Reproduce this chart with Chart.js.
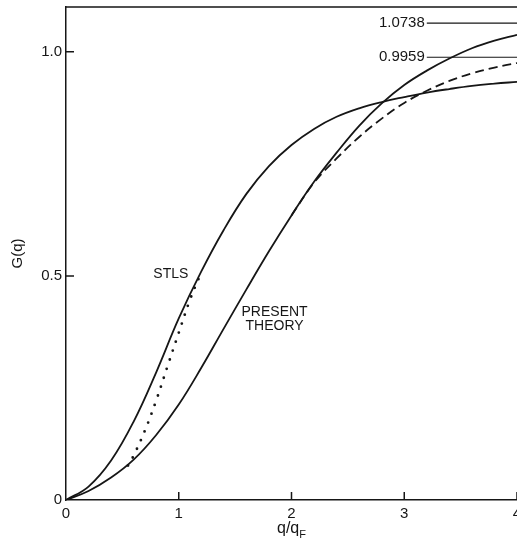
<!DOCTYPE html>
<html>
<head>
<meta charset="utf-8">
<title>G(q)</title>
<script src="https://cdn.jsdelivr.net/npm/chart.js@4.4.1/dist/chart.umd.min.js"></script>
<style>
	html, body { margin: 0; padding: 0; background: #fff; }
	canvas { display: block; }
</style>
</head>
<body>
<canvas id="gq-chart" width="517" height="542"></canvas>
<script>
( function () {
	'use strict';

	// q/qF sample points shared by the two full curves
	const qGrid = [0, 0.2, 0.4, 0.6, 0.8, 1.0, 1.2, 1.4, 1.6, 1.8, 2.0, 2.2, 2.4, 2.6, 2.8, 3.0, 3.2, 3.4, 3.6, 3.8, 4.0];
	const stlsValues = [0, 0.03, 0.088, 0.175, 0.285, 0.405, 0.51, 0.603, 0.683, 0.745, 0.792, 0.828, 0.855, 0.874, 0.888, 0.899, 0.909, 0.917, 0.924, 0.929, 0.933];
	const presentValues = [0, 0.02, 0.05, 0.09, 0.145, 0.213, 0.295, 0.383, 0.47, 0.555, 0.635, 0.71, 0.775, 0.835, 0.885, 0.926, 0.958, 0.985, 1.008, 1.025, 1.038];

	// dashed branch leaving the present theory curve
	const dashedQ = [2.0, 2.2, 2.4, 2.6, 2.8, 3.0, 3.2, 3.4, 3.6, 3.8, 4.0];
	const dashedValues = [0.635, 0.708, 0.762, 0.81, 0.851, 0.886, 0.913, 0.935, 0.952, 0.965, 0.975];

	// dotted bridge between the two curves
	const dottedQ = [0.55, 0.6, 0.7, 0.8, 0.9, 1.0, 1.1, 1.2];
	const dottedValues = [0.077, 0.099, 0.155, 0.222, 0.298, 0.373, 0.447, 0.508];

	// limit values marked at the right edge
	const limitLabels = ['1.0738', '0.9959'];
	const limitLevels = [1.064, 0.988];
	const limitStart = 3.2;

	const xTicks = [0, 1, 2, 3, 4];
	const yTicks = [0, 0.5, 1.0];

	const ink = '#161616';
	const fontFamily = '"Liberation Sans", Arial, sans-serif';

	const toPoints = function( xs, ys ){
		return xs.map(function( x, i ){ return { x: x, y: ys[i] }; });
	};

	const curve = function( points, extra ){
		return Object.assign({
			data: points,
			borderColor: ink,
			borderWidth: 1.8,
			pointRadius: 0,
			fill: false,
			tension: 0.4
		}, extra || {});
	};

	const datasets = [
		curve(toPoints(qGrid, stlsValues)),
		curve(toPoints(qGrid, presentValues)),
		curve(toPoints(dashedQ, dashedValues), { borderDash: [9, 5] }),
		curve(toPoints(dottedQ, dottedValues), { borderDash: [0, 9.5], borderCapStyle: 'round', borderWidth: 2.8 })
	];

	limitLevels.forEach(function( level ){
		datasets.push(curve(toPoints([limitStart, 4], [level, level]), { borderWidth: 1.1, tension: 0 }));
	});

	// frame top, inward ticks and the text placed on the plot
	const paperFrame = {
		id: 'paperFrame',
		afterDraw: function( chart ){
			const ctx = chart.ctx;
			const area = chart.chartArea;
			const xs = chart.scales.x;
			const ys = chart.scales.y;

			ctx.save();
			ctx.strokeStyle = ink;
			ctx.lineWidth = 1.5;

			ctx.beginPath();
			ctx.moveTo(area.left, area.top);
			ctx.lineTo(area.right, area.top);
			xTicks.forEach(function( v ){
				if( v === 0 ) return;
				const px = xs.getPixelForValue(v);
				ctx.moveTo(px, area.bottom);
				ctx.lineTo(px, area.bottom - 8);
			});
			yTicks.forEach(function( v ){
				if( v === 0 ) return;
				const py = ys.getPixelForValue(v);
				ctx.moveTo(area.left, py);
				ctx.lineTo(area.left + 8, py);
			});
			ctx.stroke();

			ctx.fillStyle = ink;
			ctx.textBaseline = 'middle';

			// curve names
			ctx.font = '14px ' + fontFamily;
			ctx.textAlign = 'center';
			ctx.fillText('STLS', xs.getPixelForValue(0.93), ys.getPixelForValue(0.504));
			ctx.fillText('PRESENT', xs.getPixelForValue(1.85), ys.getPixelForValue(0.419));
			ctx.fillText('THEORY', xs.getPixelForValue(1.85), ys.getPixelForValue(0.388));

			// limit labels
			ctx.font = '15px ' + fontFamily;
			ctx.textAlign = 'right';
			limitLabels.forEach(function( label, i ){
				ctx.fillText(label, xs.getPixelForValue(limitStart) - 2, ys.getPixelForValue(limitLevels[i]));
			});

			// x axis title with subscript
			const cx = xs.getPixelForValue(2);
			ctx.textBaseline = 'alphabetic';
			ctx.textAlign = 'left';
			ctx.font = '16px ' + fontFamily;
			const main = 'q/q';
			const w = ctx.measureText(main).width;
			ctx.font = '11px ' + fontFamily;
			const ws = ctx.measureText('F').width;
			const left = cx - (w + ws) / 2;
			ctx.font = '16px ' + fontFamily;
			ctx.fillText(main, left, 533);
			ctx.font = '11px ' + fontFamily;
			ctx.fillText('F', left + w, 538);

			ctx.restore();
		}
	};

	Chart.defaults.font.family = fontFamily;
	Chart.defaults.color = ink;

	new Chart(document.getElementById('gq-chart'), {
		type: 'line',
		data: { datasets: datasets },
		options: {
			responsive: false,
			animation: false,
			devicePixelRatio: 1,
			layout: { padding: { top: 7, right: 0, left: 0, bottom: 0 } },
			plugins: {
				legend: { display: false },
				tooltip: { enabled: false }
			},
			scales: {
				x: {
					type: 'linear',
					min: 0,
					max: 4,
					grid: { display: false, drawTicks: false },
					border: { display: true, color: ink, width: 1.5 },
					ticks: {
						autoSkip: false,
						maxRotation: 0,
						padding: 5,
						font: { size: 15 },
						callback: function( v ){ return String(v); }
					},
					afterBuildTicks: function( scale ){
						scale.ticks = xTicks.map(function( v ){ return { value: v }; });
					},
					afterFit: function( scale ){
						scale.height = 42;
						scale.paddingLeft = 0;
						scale.paddingRight = 0;
					}
				},
				y: {
					type: 'linear',
					min: 0,
					max: 1.1,
					grid: { display: false, drawTicks: false },
					border: { display: true, color: ink, width: 1.5 },
					ticks: {
						padding: 4,
						font: { size: 15 },
						callback: function( v ){ return v === 0 ? '0' : v.toFixed(1); }
					},
					afterBuildTicks: function( scale ){
						scale.ticks = yTicks.map(function( v ){ return { value: v }; });
					},
					afterFit: function( scale ){
						scale.width = 66;
						scale.paddingTop = 0;
						scale.paddingBottom = 0;
					},
					title: {
						display: true,
						text: 'G(q)',
						font: { size: 15 },
						padding: { top: 9, bottom: 0 }
					}
				}
			}
		},
		plugins: [paperFrame]
	});

} )();
</script>
</body>
</html>
